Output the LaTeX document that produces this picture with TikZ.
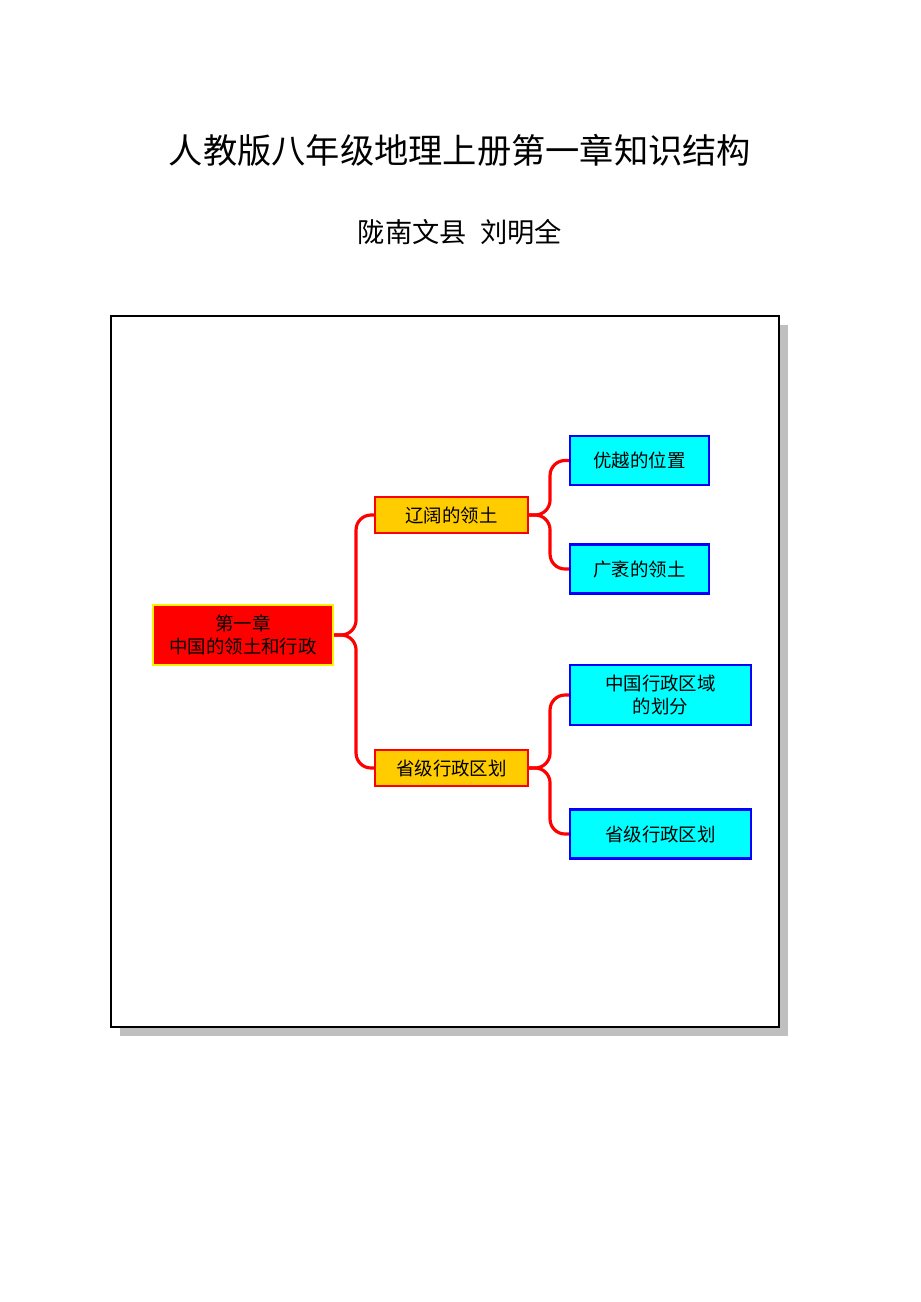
\documentclass[tikz,border=0pt]{standalone}
\usepackage{fontspec}
\newfontfamily\cjk{Noto Sans CJK SC}
\usetikzlibrary{positioning}
\definecolor{boxorange}{HTML}{FFCC00}
\definecolor{boxcyan}{HTML}{00FFFF}
\begin{document}
\begin{tikzpicture}[x=0.02cm,y=-0.02cm,
 every node/.style={font=\cjk\fontsize{10.5}{13.5}\selectfont, inner sep=0pt, align=center},
 rootbox/.style={draw=yellow, fill=red, line width=1.2pt, minimum width=3.6cm, minimum height=1.2cm},
 midbox/.style={draw=red, fill=boxorange, line width=1.2pt, minimum width=3.06cm, minimum height=0.72cm},
 leafbox/.style={draw=blue, fill=boxcyan, line width=1.2pt, minimum width=2.78cm, minimum height=0.98cm},
 wideleaf/.style={leafbox, minimum width=3.62cm},
 link/.style={draw=red, line width=1.8pt, rounded corners=0.3cm}]
 \useasboundingbox (0,0) rectangle (920,1302);
 % title and author
 \node[font=\cjk\fontsize{19.5}{22}\selectfont] (title) at (460,150) {人教版八年级地理上册第一章知识结构};
 \node[font=\cjk\fontsize{15.5}{18}\selectfont] (author) at (460,232) {陇南文县\enspace 刘明全};
 % frame with shadow
 \fill[gray!50] (120,325) rectangle (788,1036);
 \draw[fill=white, line width=0.6pt] (111,316) rectangle (779,1027);
 % boxes
 \node[rootbox] (root) at (243,635) {第一章\\中国的领土和行政};
 \node[midbox] (land) at (451.5,515) {辽阔的领土};
 \node[midbox] (prov) at (451.5,768) {省级行政区划};
 \node[leafbox] (place) at (639.5,460.5) {优越的位置};
 \node[leafbox] (vast) at (639.5,569) {广袤的领土};
 \node[wideleaf, minimum height=1.2cm] (divide) at (660.5,695) {中国行政区域\\的划分};
 \node[wideleaf] (level) at (660.5,834) {省级行政区划};
 % braces
 \draw[link] (root.east) -- ++(22,0) |- (land.west);
 \draw[link] (root.east) -- ++(22,0) |- (prov.west);
 \draw[link] (land.east) -- ++(21,0) |- (place.west);
 \draw[link] (land.east) -- ++(21,0) |- (vast.west);
 \draw[link] (prov.east) -- ++(21,0) |- (divide.west);
 \draw[link] (prov.east) -- ++(21,0) |- (level.west);
\end{tikzpicture}
\end{document}
